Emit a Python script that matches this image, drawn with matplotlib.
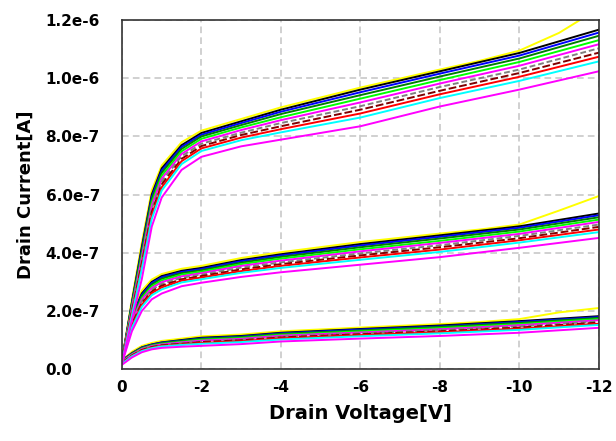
import matplotlib
matplotlib.use('Agg')
import matplotlib.pyplot as plt
import numpy as np

# drain voltage points [V]
vds = [0, -0.25, -0.5, -0.75, -1, -1.5, -2, -3, -4, -6, -8, -10, -12]

# drain current in units of 1e-7 A, one row per curve (top of band -> bottom)
high_vg = [
    [0.30, 2.30, 4.20, 6.00, 6.90, 7.70, 8.12, 8.52, 8.92, 9.61, 10.24, 10.87, 11.67],
    [0.29, 2.26, 4.12, 5.92, 6.83, 7.64, 8.06, 8.46, 8.85, 9.52, 10.16, 10.78, 11.57],
    [0.29, 2.22, 4.04, 5.84, 6.75, 7.57, 8.00, 8.39, 8.77, 9.42, 10.06, 10.68, 11.46],
    [0.28, 2.16, 3.92, 5.73, 6.65, 7.49, 7.92, 8.31, 8.66, 9.30, 9.94, 10.56, 11.31],
    [0.27, 2.10, 3.83, 5.62, 6.55, 7.40, 7.83, 8.22, 8.56, 9.17, 9.82, 10.43, 11.17],
    [0.26, 2.04, 3.73, 5.51, 6.45, 7.32, 7.75, 8.13, 8.46, 9.04, 9.70, 10.30, 11.03],
    [0.25, 1.98, 3.64, 5.40, 6.35, 7.23, 7.67, 8.05, 8.35, 8.92, 9.57, 10.18, 10.88],
    [0.24, 1.92, 3.54, 5.29, 6.25, 7.15, 7.59, 7.96, 8.25, 8.79, 9.45, 10.05, 10.74],
    [0.22, 1.85, 3.44, 5.16, 6.14, 7.05, 7.50, 7.87, 8.14, 8.65, 9.32, 9.91, 10.58],
    [0.20, 1.70, 3.10, 4.90, 5.90, 6.85, 7.30, 7.66, 7.89, 8.35, 9.03, 9.61, 10.24],
]
mid_vg = [
    [0.30, 1.80, 2.60, 3.00, 3.20, 3.38, 3.48, 3.75, 3.95, 4.30, 4.60, 4.91, 5.35],
    [0.29, 1.77, 2.56, 2.96, 3.16, 3.34, 3.44, 3.71, 3.91, 4.25, 4.55, 4.86, 5.29],
    [0.29, 1.73, 2.51, 2.91, 3.11, 3.30, 3.40, 3.66, 3.86, 4.19, 4.49, 4.80, 5.22],
    [0.28, 1.68, 2.45, 2.85, 3.05, 3.25, 3.35, 3.61, 3.80, 4.12, 4.41, 4.73, 5.14],
    [0.27, 1.63, 2.39, 2.79, 2.99, 3.19, 3.30, 3.55, 3.73, 4.05, 4.34, 4.65, 5.06],
    [0.26, 1.58, 2.33, 2.73, 2.93, 3.14, 3.25, 3.49, 3.67, 3.98, 4.26, 4.58, 4.97],
    [0.25, 1.53, 2.27, 2.67, 2.87, 3.09, 3.20, 3.43, 3.61, 3.91, 4.19, 4.50, 4.89],
    [0.24, 1.48, 2.21, 2.61, 2.81, 3.04, 3.15, 3.37, 3.55, 3.84, 4.11, 4.43, 4.80],
    [0.22, 1.42, 2.14, 2.54, 2.74, 2.98, 3.09, 3.31, 3.48, 3.76, 4.03, 4.35, 4.71],
    [0.20, 1.30, 2.00, 2.40, 2.60, 2.85, 2.97, 3.17, 3.33, 3.59, 3.85, 4.17, 4.51],
]
low_vg = [
    [0.30, 0.55, 0.75, 0.85, 0.92, 1.00, 1.08, 1.14, 1.25, 1.38, 1.50, 1.65, 1.82],
    [0.29, 0.54, 0.74, 0.84, 0.91, 0.98, 1.06, 1.12, 1.23, 1.36, 1.47, 1.62, 1.79],
    [0.28, 0.53, 0.72, 0.82, 0.89, 0.97, 1.04, 1.10, 1.21, 1.33, 1.45, 1.59, 1.76],
    [0.26, 0.51, 0.71, 0.81, 0.87, 0.94, 1.01, 1.07, 1.18, 1.30, 1.41, 1.55, 1.72],
    [0.25, 0.50, 0.69, 0.79, 0.85, 0.92, 0.98, 1.04, 1.15, 1.26, 1.37, 1.51, 1.68],
    [0.23, 0.48, 0.67, 0.77, 0.83, 0.90, 0.95, 1.01, 1.12, 1.23, 1.34, 1.47, 1.64],
    [0.22, 0.47, 0.66, 0.76, 0.82, 0.87, 0.93, 0.99, 1.09, 1.20, 1.30, 1.43, 1.60],
    [0.20, 0.45, 0.64, 0.74, 0.80, 0.85, 0.90, 0.96, 1.06, 1.17, 1.27, 1.39, 1.56],
    [0.19, 0.44, 0.62, 0.72, 0.78, 0.83, 0.87, 0.93, 1.02, 1.13, 1.23, 1.35, 1.52],
    [0.15, 0.40, 0.58, 0.68, 0.73, 0.77, 0.80, 0.86, 0.95, 1.05, 1.14, 1.25, 1.42],
]
line_colors = ['black', 'blue', 'green', 'lime', 'magenta', 'gray',
               'maroon', 'red', 'cyan', 'magenta']
line_styles = ['-', '-', '-', '-', '-', (0, (3, 1.5)),
               (0, (4, 1.5)), '-', '-', '-']

# the yellow curves that bend up at high drain voltage
vds_outlier = [0, -0.25, -0.5, -0.75, -1, -1.5, -2, -3, -4, -6, -8, -9, -10, -11, -12]
outliers = [
    [0.30, 2.40, 4.35, 6.15, 7.00, 7.80, 8.20, 8.60, 9.00, 9.68, 10.30, 10.60, 10.95, 11.56, 12.40],
    [0.30, 1.90, 2.70, 3.08, 3.27, 3.45, 3.55, 3.82, 4.02, 4.37, 4.66, 4.80, 4.97, 5.45, 5.95],
    [0.30, 0.60, 0.80, 0.90, 0.97, 1.05, 1.13, 1.19, 1.30, 1.43, 1.55, 1.62, 1.72, 1.95, 2.10],
]

x_ticks = [0, -2, -4, -6, -8, -10, -12]
x_labels = ['0', '-2', '-4', '-6', '-8', '-10', '-12']
y_ticks = [0, 2e-7, 4e-7, 6e-7, 8e-7, 1.0e-6, 1.2e-6]
y_labels = ['0.0', '2.0e-7', '4.0e-7', '6.0e-7', '8.0e-7', '1.0e-6', '1.2e-6']

fig = plt.figure(figsize=(6.16, 4.41), dpi=100)
ax = fig.add_axes([0.198, 0.163, 0.774, 0.7914])

for curve in outliers:
    ax.plot(vds_outlier, np.array(curve) * 1e-7, color='#ffff00', lw=1.4)
for group in (low_vg, mid_vg, high_vg):
    for curve, c, ls in zip(group, line_colors, line_styles):
        ax.plot(vds, np.array(curve) * 1e-7, color=c, lw=1.4, linestyle=ls)

ax.set_xlim(0, -12)
ax.set_ylim(0, 1.2e-6)
ax.set_xticks(x_ticks)
ax.set_xticklabels(x_labels, fontsize=11, fontweight='bold')
ax.set_yticks(y_ticks)
ax.set_yticklabels(y_labels, fontsize=11, fontweight='bold', ha='left')
ax.tick_params(axis='both', length=0)
ax.tick_params(axis='y', pad=55)
ax.tick_params(axis='x', pad=8)

ax.grid(True, color='#c8c8c8', linestyle=(0, (4, 2.5)), lw=1.2)
ax.set_axisbelow(True)
for s in ax.spines.values():
    s.set_color('#333333')
    s.set_linewidth(1.2)

ax.set_xlabel('Drain Voltage[V]', fontsize=14, fontweight='bold', labelpad=6)
ax.set_ylabel('Drain Current[A]', fontsize=13, fontweight='bold', labelpad=8)

fig.savefig('out.png', dpi=100)
